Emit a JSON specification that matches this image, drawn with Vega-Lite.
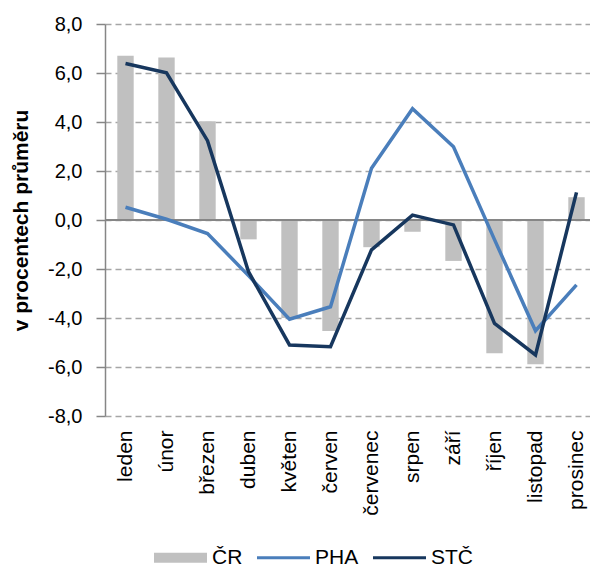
{
  "$schema": "https://vega.github.io/schema/vega-lite/v6.json",
  "width": 492,
  "height": 392,
  "autosize": "none",
  "padding": {"left": 105, "top": 24, "right": 0, "bottom": 151},
  "background": "white",
  "config": {
    "font": "Liberation Sans",
    "view": {"stroke": null}
  },
  "data": {
    "values": [
      {"mesic": "leden", "rada": "ČR", "hodnota": 6.7},
      {"mesic": "únor", "rada": "ČR", "hodnota": 6.63},
      {"mesic": "březen", "rada": "ČR", "hodnota": 4.03},
      {"mesic": "duben", "rada": "ČR", "hodnota": -0.79},
      {"mesic": "květen", "rada": "ČR", "hodnota": -4.0},
      {"mesic": "červen", "rada": "ČR", "hodnota": -4.53},
      {"mesic": "červenec", "rada": "ČR", "hodnota": -1.11},
      {"mesic": "srpen", "rada": "ČR", "hodnota": -0.48},
      {"mesic": "září", "rada": "ČR", "hodnota": -1.67},
      {"mesic": "říjen", "rada": "ČR", "hodnota": -5.44},
      {"mesic": "listopad", "rada": "ČR", "hodnota": -5.89},
      {"mesic": "prosinec", "rada": "ČR", "hodnota": 0.93},
      {"mesic": "leden", "rada": "PHA", "hodnota": 0.52},
      {"mesic": "únor", "rada": "PHA", "hodnota": 0.03},
      {"mesic": "březen", "rada": "PHA", "hodnota": -0.55},
      {"mesic": "duben", "rada": "PHA", "hodnota": -2.27},
      {"mesic": "květen", "rada": "PHA", "hodnota": -4.05},
      {"mesic": "červen", "rada": "PHA", "hodnota": -3.54},
      {"mesic": "červenec", "rada": "PHA", "hodnota": 2.11},
      {"mesic": "srpen", "rada": "PHA", "hodnota": 4.54},
      {"mesic": "září", "rada": "PHA", "hodnota": 2.99},
      {"mesic": "říjen", "rada": "PHA", "hodnota": -0.8},
      {"mesic": "listopad", "rada": "PHA", "hodnota": -4.52},
      {"mesic": "prosinec", "rada": "PHA", "hodnota": -2.65},
      {"mesic": "leden", "rada": "STČ", "hodnota": 6.39},
      {"mesic": "únor", "rada": "STČ", "hodnota": 6.01},
      {"mesic": "březen", "rada": "STČ", "hodnota": 3.24},
      {"mesic": "duben", "rada": "STČ", "hodnota": -2.11},
      {"mesic": "květen", "rada": "STČ", "hodnota": -5.1},
      {"mesic": "červen", "rada": "STČ", "hodnota": -5.17},
      {"mesic": "červenec", "rada": "STČ", "hodnota": -1.22},
      {"mesic": "srpen", "rada": "STČ", "hodnota": 0.2},
      {"mesic": "září", "rada": "STČ", "hodnota": -0.2},
      {"mesic": "říjen", "rada": "STČ", "hodnota": -4.22},
      {"mesic": "listopad", "rada": "STČ", "hodnota": -5.51},
      {"mesic": "prosinec", "rada": "STČ", "hodnota": 1.13}
    ]
  },
  "encoding": {
    "x": {
      "field": "mesic",
      "type": "nominal",
      "sort": ["leden", "únor", "březen", "duben", "květen", "červen", "červenec", "srpen", "září", "říjen", "listopad", "prosinec"],
      "scale": {"paddingInner": 0.6, "paddingOuter": 0.3},
      "axis": {
        "title": null,
        "labelAngle": -90,
        "labelAlign": "right",
        "labelBaseline": "middle",
        "labelPadding": 14,
        "labelFontSize": 21,
        "labelColor": "black",
        "domain": false,
        "ticks": false
      }
    },
    "y": {
      "field": "hodnota",
      "type": "quantitative",
      "scale": {"domain": [-8, 8], "nice": false},
      "axis": {
        "title": "v procentech průměru",
        "titleFontSize": 21,
        "titleFontWeight": "bold",
        "titleColor": "black",
        "titlePadding": 16,
        "values": [-8, -6, -4, -2, 0, 2, 4, 6, 8],
        "labelExpr": "replace(replace(format(datum.value, '.1f'), '.', ','), '\u2212', '-')",
        "labelFontSize": 20,
        "labelColor": "black",
        "labelPadding": 14,
        "domainColor": "#868686",
        "domainWidth": 1.5,
        "tickColor": "#868686",
        "tickSize": 9,
        "tickWidth": 1.5,
        "gridColor": "#A6A6A6",
        "gridDash": [6, 4],
        "gridWidth": 1.5
      }
    },
    "color": {
      "field": "rada",
      "type": "nominal",
      "scale": {"domain": ["ČR", "PHA", "STČ"], "range": ["#C0C0C0", "#4A7EBB", "#17375E"]},
      "legend": {
        "title": null,
        "orient": "none",
        "legendX": 49,
        "legendY": 507,
        "direction": "horizontal",
        "symbolSize": 2809,
        "labelFontSize": 21,
        "labelColor": "black",
        "labelOffset": 5,
        "columnPadding": 14,
        "encode": {
          "symbols": {
            "update": {
              "shape": {"signal": "datum.value === 'ČR' ? 'M-1,-0.19H1V0.19H-1Z' : 'M-1,-0.06H1V0.06H-1Z'"},
              "fill": {"signal": "scale('color', datum.value)"},
              "fillOpacity": {"value": 1},
              "strokeWidth": {"value": 0}
            }
          }
        }
      }
    }
  },
  "layer": [
    {
      "transform": [{"filter": "datum.rada === 'ČR'"}],
      "mark": {"type": "bar"}
    },
    {
      "mark": {"type": "rule", "color": "#868686", "strokeWidth": 1.5},
      "encoding": {"y": {"datum": 0}, "x": null, "color": null}
    },
    {
      "transform": [{"filter": "datum.rada !== 'ČR'"}],
      "mark": {"type": "line", "strokeWidth": 3.5}
    }
  ]
}
